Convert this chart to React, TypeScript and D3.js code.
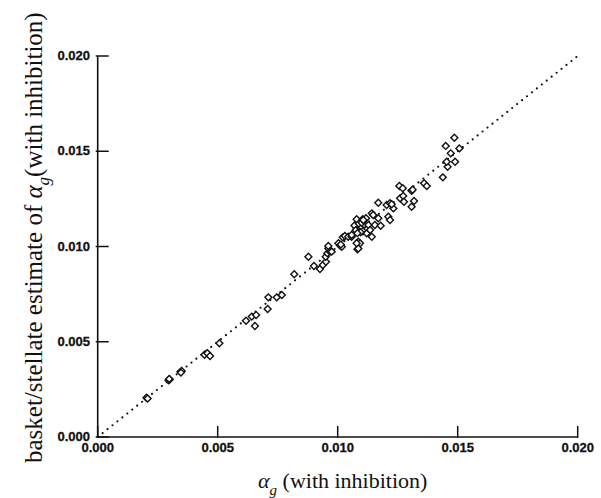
import React from "react";
import * as d3 from "d3";

// values in units of 1e-3 (alpha_g with inhibition, basket/stellate estimate)
const xVals: number[] = [
  2.03, 2.08, 2.95, 3.0, 2.98, 3.45, 3.5, 3.47, 4.45, 4.57, 4.68, 5.07,
  6.18, 6.42, 6.6, 6.55, 7.08, 7.11, 7.46, 7.67, 8.19, 8.78, 9.01, 9.26,
  9.38, 9.51, 9.5, 9.57, 9.61, 9.61, 9.68, 9.75, 10.03, 10.1, 10.17, 10.13,
  10.21, 10.3, 10.44, 10.58, 10.58, 10.79, 10.79, 10.85, 10.9, 10.95, 11.0,
  10.7, 10.75, 11.05, 10.88, 11.1, 10.95, 11.0, 10.82, 10.86, 10.82, 10.93,
  10.86, 10.79, 11.04, 11.18, 11.28, 11.21, 11.07, 11.35, 11.42, 11.42,
  11.48, 11.55, 11.69, 11.79, 11.69, 12.04, 12.18, 12.32, 12.11, 12.18,
  12.25, 12.57, 12.71, 12.6, 12.73, 12.76, 13.08, 13.18, 13.08, 13.12, 13.6,
  13.71, 14.38, 14.58, 14.54, 14.71, 14.89, 14.5, 14.86, 15.07,
];
const yVals: number[] = [
  2.06, 2.02, 2.98, 3.02, 3.05, 3.42, 3.47, 3.38, 4.32, 4.4, 4.25, 4.92,
  6.1, 6.32, 6.4, 5.83, 6.72, 7.33, 7.33, 7.45, 8.54, 9.46, 8.98, 8.82,
  9.03, 9.2, 9.46, 9.64, 9.9, 10.03, 9.73, 9.73, 10.17, 10.05, 9.99, 10.1,
  10.48, 10.55, 10.51, 10.51, 10.6, 11.43, 10.96, 11.05, 10.9, 11.1, 11.0,
  11.1, 10.85, 10.8, 11.2, 11.15, 10.75, 11.25, 10.7, 10.25, 9.85, 10.17,
  9.9, 10.17, 11.43, 11.48, 11.13, 10.69, 11.39, 10.87, 10.51, 11.74,
  11.65, 11.13, 11.48, 11.09, 12.3, 12.18, 12.27, 12.0, 11.56, 11.39,
  12.22, 13.18, 13.06, 12.53, 12.65, 12.35, 12.09, 12.39, 12.93, 12.98, 13.32,
  13.18, 13.63, 14.19, 14.45, 14.89, 14.45, 15.28, 15.71, 15.15,
];
const tickVals: number[] = [0, 0.005, 0.01, 0.015, 0.02];
const diagonal: number[] = [0, 0.02];

export default function App() {
  const W = 601, H = 498;
  const x = d3.scaleLinear().domain([0, 0.02]).range([97.7, 577.7]);
  const y = d3.scaleLinear().domain([0, 0.02]).range([437, 56]);
  const fmt = d3.format(".3f");
  const diamond = d3.symbol().type(d3.symbolSquare).size(24)()!;
  const line = d3.line<number>().x((d) => x(d)).y((d) => y(d));
  const pts = xVals.map((v, i) => [v / 1000, yVals[i] / 1000]);
  const tickFont = { fontFamily: "'Liberation Sans', Arial, sans-serif", fontWeight: 700, fontSize: 13 } as const;
  const serif = "'Liberation Serif', 'Times New Roman', serif";
  return (
    <svg width={W} height={H} style={{ position: "absolute", left: 0, top: 0, background: "#fff" }}>
      <rect width={W} height={H} fill="#fff" />
      {/* diagonal dotted line */}
      <path d={line(diagonal)!} fill="none" stroke="#111" strokeWidth={2.2} strokeLinecap="round" strokeDasharray="0 6.3" />
      {/* axes */}
      <line x1={x(0)} x2={x(0.02)} y1={y(0)} y2={y(0)} stroke="#111" strokeWidth={1.6} />
      <line x1={x(0)} x2={x(0)} y1={y(0)} y2={y(0.02)} stroke="#111" strokeWidth={1.6} />
      {tickVals.map((t) => (
        <g key={"x" + t}>
          <line x1={x(t)} x2={x(t)} y1={y(0) + 1} y2={y(0) - 11} stroke="#111" strokeWidth={1.5} />
          <text x={x(t)} y={452} textAnchor="middle" {...tickFont} fill="#111" stroke="#111" strokeWidth={0.3}>{fmt(t)}</text>
        </g>
      ))}
      {tickVals.map((t) => (
        <g key={"y" + t}>
          <line x1={x(0) - 2} x2={x(0) + 11} y1={y(t)} y2={y(t)} stroke="#111" strokeWidth={1.5} />
          <text x={90} y={y(t) + 4.2} textAnchor="end" {...tickFont} fill="#111" stroke="#111" strokeWidth={0.3}>{fmt(t)}</text>
        </g>
      ))}
      {/* points */}
      {pts.map((p, i) => (
        <path key={i} d={diamond} transform={`translate(${x(p[0])},${y(p[1])}) rotate(45)`} fill="#fff" stroke="#111" strokeWidth={1.4} />
      ))}
      {/* x axis title */}
      <text x={258} y={488} fontFamily={serif} fontSize={22} fill="#111">
        <tspan fontStyle="italic">α</tspan>
        <tspan fontStyle="italic" fontSize={15} dy={7}>g</tspan>
        <tspan dy={-7}> (with inhibition)</tspan>
      </text>
      {/* y axis title */}
      <text transform="translate(42,463) rotate(-90)" x={0} y={0} fontFamily={serif} fontSize={25} fill="#111">
        <tspan>basket/stellate estimate of </tspan>
        <tspan fontStyle="italic">α</tspan>
        <tspan fontStyle="italic" fontSize={17} dy={7}>g</tspan>
        <tspan dy={-7}>(with inhibition)</tspan>
      </text>
    </svg>
  );
}
